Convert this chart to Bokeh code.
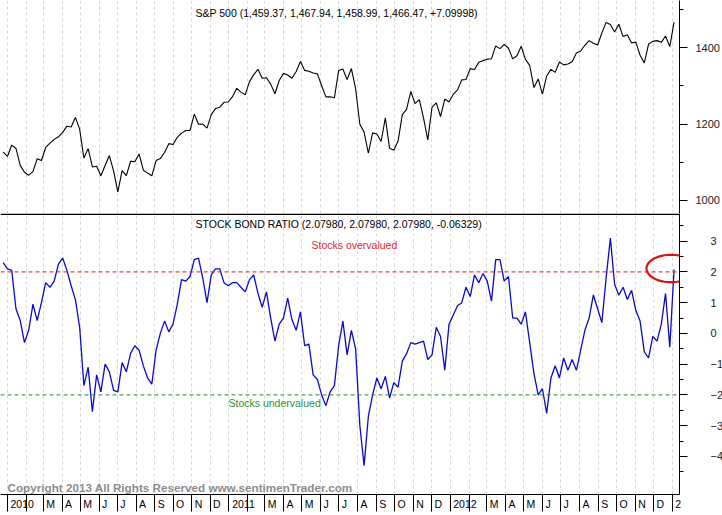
import numpy as np
import pandas as pd
from bokeh.plotting import figure
from bokeh.layouts import column
from bokeh.models import Range1d, LinearAxis, FixedTicker, Grid, Label, PolyAnnotation, Span
from bokeh.embed import file_html
from bokeh.resources import INLINE

# ---------------- data (weekly, Fridays) ----------------
week_start = "2009-12-25"

spx = [
    1126.48, 1115.10,
    1144.98, 1136.03, 1091.76, 1073.87, 1066.19, 1075.51, 1109.17, 1104.49, 1138.70, 1149.99,
    1159.90, 1166.59, 1178.10, 1194.37, 1192.13, 1217.28, 1186.69, 1110.88, 1135.68, 1087.69,
    1089.41, 1064.88, 1091.60, 1117.51, 1076.76, 1022.58, 1077.96, 1064.88, 1102.66, 1101.60,
    1121.64, 1079.25, 1071.69, 1064.59, 1104.51, 1109.55, 1125.59, 1148.67, 1146.24, 1165.15,
    1176.19, 1183.08, 1183.26, 1225.85, 1199.21, 1199.73, 1189.40, 1224.71, 1240.40, 1243.91,
    1256.77, 1257.64,
    1271.50, 1293.24, 1283.35, 1276.34, 1310.87, 1329.15, 1343.01, 1319.88, 1321.15, 1304.28,
    1279.21, 1313.80, 1332.41, 1328.17, 1319.68, 1337.38, 1363.61, 1340.20, 1337.77, 1333.27,
    1331.10, 1300.16, 1270.98, 1271.50, 1268.45, 1339.67, 1343.80, 1316.14, 1345.02, 1292.28,
    1199.38, 1178.81, 1123.53, 1176.80, 1173.97, 1154.23, 1216.01, 1136.43, 1131.42, 1155.46,
    1224.58, 1238.25, 1285.09, 1253.23, 1263.85, 1215.65, 1158.67, 1244.28, 1255.19, 1219.66,
    1265.33, 1257.60,
    1277.81, 1289.09, 1315.38, 1316.33, 1344.90, 1342.64, 1361.23, 1365.74, 1369.63, 1370.87,
    1404.17, 1397.11, 1408.47, 1398.08, 1370.26, 1378.53, 1403.36, 1369.10, 1353.39, 1295.22,
    1317.82, 1278.04, 1325.66, 1342.84, 1335.02, 1362.16, 1354.68, 1356.78, 1362.66, 1385.97,
    1390.99, 1405.87, 1418.16, 1411.13, 1406.58, 1437.92, 1465.77, 1460.15, 1440.67, 1460.93,
    1428.59, 1433.19, 1411.94, 1414.20, 1379.85, 1359.88, 1409.15, 1416.18, 1418.07, 1413.58,
    1430.15, 1402.43,
    1466.47,
]

sbr = [
    2.3, 2.1, 2.05, 0.8, 0.42, -0.3, 0.1, 0.95, 0.42, 1.0,
    1.65, 1.5, 1.7, 2.25, 2.45, 2.05, 1.55, 1.1, 0.2, -1.7,
    -1.1, -2.55, -1.35, -1.9, -1.0, -1.25, -1.85, -1.9, -0.95, -1.25,
    -0.65, -0.4, -0.55, -1.05, -1.45, -1.65, -0.55, 0.0, 0.4, 0.05,
    0.3, 0.95, 1.75, 1.7, 1.85, 2.4, 2.45, 1.8, 1.0, 1.9,
    2.1, 2.1, 1.65, 1.55, 1.65, 1.65, 1.5, 1.35, 1.75, 1.9,
    1.3, 0.85, 1.35, 0.5, -0.25, 0.3, 0.5, 1.15, 0.45, 0.1,
    0.7, -0.4, -0.35, -1.35, -1.5, -2.0, -2.35, -1.9, -1.7, -0.4,
    0.4, -0.7, 0.1, -0.5, -3.0, -4.3, -2.7, -2.0, -1.45, -1.8,
    -1.4, -2.1, -1.6, -1.75, -0.9, -0.66, -0.3, -0.35, -0.3, -0.25,
    -0.85, -0.7, 0.2, -0.1, -1.2, 0.3, 0.6, 0.9, 1.0, 1.5,
    1.2, 1.9, 1.65, 1.95, 1.7, 1.05, 2.4, 2.4, 1.7, 1.85,
    0.5, 0.5, 0.3, 0.7, -0.3, -1.3, -2.0, -1.8, -2.6, -1.45,
    -1.05, -1.45, -0.8, -1.2, -0.85, -1.2, -0.55, 0.1, 0.5, 1.25,
    0.8, 0.35, 1.8, 3.1, 1.6, 1.24, 1.5, 1.1, 1.4, 0.75,
    0.4, -0.6, -0.8, -0.1, -0.25, 0.3, 1.3, -0.45, 2.08,
]

spx_ticks = [1000, 1200, 1400]
spx_minor = [1100, 1300, 1500]
sbr_ticks = [-4, -3, -2, -1, 0, 1, 2, 3]
sbr_minor = [-4.5, -3.5, -2.5, -1.5, -0.5, 0.5, 1.5, 2.5, 3.5]
overvalued_level = 2
undervalued_level = -2

year_labels = ["2010", "2011", "2012"]
month_letters = ["", "M", "A", "M", "J", "J", "A", "S", "O", "N", "D"]
last_label = "2"

spx_title = "S&P 500 (1,459.37, 1,467.94, 1,458.99, 1,466.47, +7.09998)"
sbr_title = "STOCK BOND RATIO (2.07980, 2.07980, 2.07980, -0.06329)"
copyright_text = "Copyright 2013 All Rights Reserved  www.sentimenTrader.com"

dates = pd.date_range(week_start, periods=len(spx), freq="7D")

# ---------------- layout constants ----------------
FONT = "Liberation Sans"
W = 722
FRAME_W = 679
RIGHT = W - FRAME_W
TOP_H = 213
BOT_FRAME_H = 281
BAND_H = 21

x_start = pd.Timestamp("2009-12-20 12:00")
x_end = pd.Timestamp("2013-01-13")
x_range = Range1d(start=x_start, end=x_end)
px_per_day = FRAME_W / ((x_end - x_start).total_seconds() / 86400.0)


def ms(ts):
    return int(pd.Timestamp(ts).value // 10**6)


month_starts = pd.date_range("2010-01-01", "2013-01-01", freq="MS")
month_ms = [ms(m) for m in month_starts]

labels_all = []
for y in year_labels:
    labels_all.append(y)
    labels_all.extend(month_letters)
labels_all.append(last_label)

char_w = {"M": 0.833, "A": 0.667, "J": 0.5, "S": 0.667, "O": 0.778, "N": 0.722, "D": 0.722}
LBL_PX = 10.5
label_pos, label_txt = [], []
for m, t in zip(month_starts, labels_all):
    if not t:
        continue
    w = sum(char_w.get(c, 0.556) for c in t) * LBL_PX
    off_days = (3.0 + w / 2.0) / px_per_day
    label_pos.append(ms(m) + int(off_days * 86400000))
    label_txt.append(t)


def style_y(ax, standoff):
    ax.axis_line_color = "black"
    ax.major_tick_line_color = "black"
    ax.minor_tick_line_color = "black"
    ax.major_tick_out = 8
    ax.major_tick_in = 0
    ax.minor_tick_out = 4
    ax.minor_tick_in = 0
    ax.major_label_standoff = standoff
    ax.major_label_text_font = FONT
    ax.major_label_text_font_size = "11px"
    ax.major_label_text_color = "#222222"


def add_vgrid(p):
    for g in list(p.grid):
        g.visible = False
    g = Grid(dimension=0, ticker=FixedTicker(ticks=month_ms))
    g.grid_line_color = "#d6d6d6"
    g.grid_line_dash = "3 3"
    g.grid_line_width = 1
    p.add_layout(g)


def base_fig(frame_h, y_range, bottom_border):
    p = figure(frame_width=FRAME_W, frame_height=frame_h, x_range=x_range, y_range=y_range,
               x_axis_location=None, y_axis_location=None,
               toolbar_location=None, output_backend="svg",
               min_border_left=0, min_border_right=RIGHT,
               min_border_top=0, min_border_bottom=bottom_border)
    p.outline_line_color = None
    p.background_fill_color = "white"
    p.border_fill_color = "white"
    add_vgrid(p)
    return p


# ---------------- top panel: S&P 500 ----------------
top = base_fig(TOP_H, Range1d(966, 1523), 0)
top.line(x=dates, y=spx, line_color="black", line_width=1.1)
ax_top = LinearAxis(ticker=FixedTicker(ticks=spx_ticks, minor_ticks=spx_minor))
style_y(ax_top, 8)
top.add_layout(ax_top, "right")
top.add_layout(Label(x=195, y=TOP_H - 12, x_units="screen", y_units="screen",
                     text=spx_title, text_font=FONT, text_font_size="10.5px",
                     text_color="black", text_baseline="middle"))

# ---------------- bottom panel: Stock Bond Ratio ----------------
bot = base_fig(BOT_FRAME_H, Range1d(-5.24, 3.90), BAND_H)
bot.add_layout(Span(location=overvalued_level, dimension="width", line_color="#d01c24",
                    line_dash="4 3", line_width=1))
bot.add_layout(Span(location=undervalued_level, dimension="width", line_color="#2b8a2b",
                    line_dash="4 3", line_width=1))
bot.line(x=dates, y=sbr, line_color="#0a0acc", line_width=1.3)

ax_bot = LinearAxis(ticker=FixedTicker(ticks=sbr_ticks, minor_ticks=sbr_minor))
style_y(ax_bot, 23)
bot.add_layout(ax_bot, "right")

xax = LinearAxis(ticker=FixedTicker(ticks=label_pos, minor_ticks=month_ms),
                 major_label_overrides=dict(zip(label_pos, label_txt)))
xax.axis_line_color = "black"
xax.major_tick_out = 0
xax.major_tick_in = 0
xax.minor_tick_out = 17
xax.minor_tick_in = 0
xax.minor_tick_line_color = "black"
xax.major_label_standoff = -14
xax.major_label_text_font = FONT
xax.major_label_text_font_size = "10.5px"
xax.major_label_text_color = "black"
bot.add_layout(xax, "below")

bot.add_layout(Label(x=195, y=BOT_FRAME_H - 10.3, x_units="screen", y_units="screen",
                     text=sbr_title, text_font=FONT, text_font_size="10.5px",
                     text_color="black", text_baseline="middle"))
bot.add_layout(Label(x=311, y=BOT_FRAME_H - 31.3, x_units="screen", y_units="screen",
                     text="Stocks overvalued", text_font=FONT, text_font_size="10.5px",
                     text_color="#e3262e", text_baseline="middle"))
bot.add_layout(Label(x=228, y=BOT_FRAME_H - 189.7, x_units="screen", y_units="screen",
                     text="Stocks undervalued", text_font=FONT, text_font_size="10.5px",
                     text_color="#2f8f2f", text_baseline="middle"))
bot.add_layout(Label(x=7, y=7, x_units="screen", y_units="screen",
                     text=copyright_text, text_font=FONT, text_font_size="11.7px",
                     text_font_style="bold",
                     text_color="#8c8c8c", text_baseline="middle"))

# separator between the panels (full width, including the axis area)
bot.add_layout(PolyAnnotation(xs=[0, W, W, 0], ys=[BOT_FRAME_H - 0.75] * 4,
                              xs_units="screen", ys_units="screen",
                              line_color="black", line_alpha=1.0, line_width=1.5,
                              fill_color=None))

# red highlight ellipse
theta = np.linspace(0, 2 * np.pi, 73)
ex, ey, ea, eb = 670.5, 494 - 268, 24.5, 13.7
bot.add_layout(PolyAnnotation(xs=list(ex + ea * np.cos(theta)), ys=list(ey + eb * np.sin(theta)),
                              xs_units="screen", ys_units="screen",
                              line_color="#dd1111", line_alpha=1.0, line_width=2.2,
                              fill_color=None))

layout = column(top, bot, spacing=0)
open("out.html", "w").write(file_html(layout, INLINE))
